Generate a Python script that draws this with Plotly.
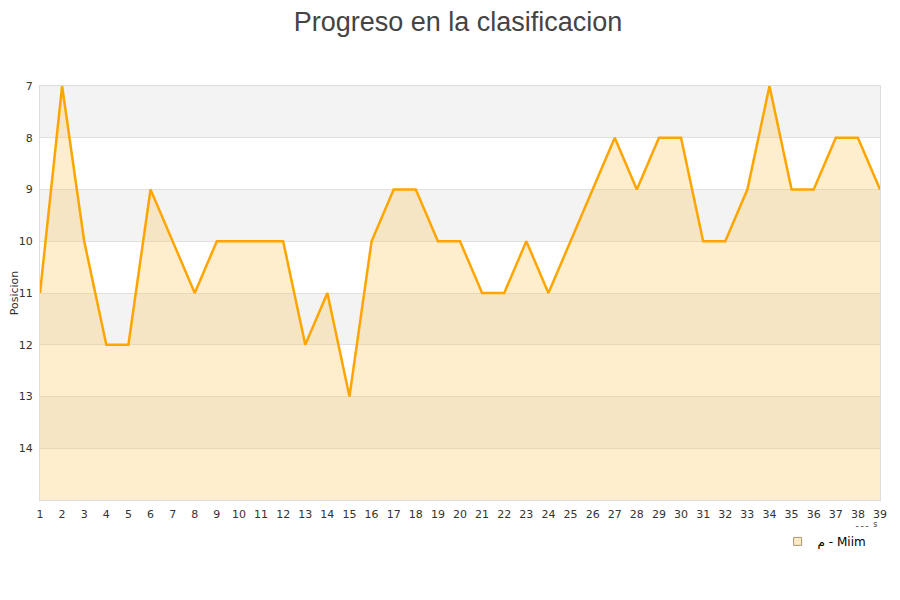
import plotly.graph_objects as go

jornadas = list(range(1, 40))
posiciones = [11, 7, 10, 12, 12, 9, 10, 11, 10, 10, 10, 10, 12, 11, 13, 10, 9, 9, 10, 10,
              11, 11, 10, 11, 10, 9, 8, 9, 8, 8, 10, 10, 9, 7, 9, 9, 8, 8, 9]
y_ticks = [7, 8, 9, 10, 11, 12, 13, 14]
serie_nombre = "م - Miim"

fig = go.Figure()

# alternating bands
for lo in [7, 9, 11, 13]:
    fig.add_shape(type="rect", xref="paper", yref="y", x0=0, x1=1, y0=lo, y1=lo + 1,
                  fillcolor="#f3f3f3", line_width=0, layer="below")

fig.add_trace(go.Scatter(x=jornadas, y=[15] * len(jornadas), mode="lines",
                         line=dict(width=0, color="rgba(0,0,0,0)"), showlegend=False,
                         hoverinfo="skip"))
fig.add_trace(go.Scatter(x=jornadas, y=posiciones, mode="lines", fill="tonexty",
                         fillcolor="rgba(255,200,90,0.30)",
                         line=dict(color="#FFA500", width=2.5), showlegend=False,
                         name=serie_nombre))
fig.add_trace(go.Scatter(x=[None], y=[None], mode="markers", name=serie_nombre,
                         marker=dict(symbol="square", size=8, color="#fde9c4",
                                     line=dict(color="#a89878", width=1))))

fig.add_annotation(text="ـ ـ ـ  s", xref="paper", yref="paper", x=0.999, y=-0.06,
                   xanchor="right", yanchor="middle", showarrow=False,
                   font=dict(size=8, color="#333"))

fig.update_layout(
    width=900, height=600,
    paper_bgcolor="white", plot_bgcolor="white",
    margin=dict(l=32, r=28, t=78, b=108, autoexpand=False),
    title=dict(text="Progreso en la clasificacion", x=0.5, xanchor="center", y=0.978,
               yanchor="middle", font=dict(family="Liberation Sans, Arial", size=27, color="#444")),
    font=dict(family="DejaVu Sans", size=11, color="#333"),
    xaxis=dict(range=[1, 39], tickmode="array", tickvals=jornadas, showgrid=False,
               zeroline=False, showline=True, linecolor="#dddddd", mirror=True,
               ticks="", automargin=False, ticklabelstandoff=4,
               tickfont=dict(size=11, color="#333")),
    yaxis=dict(range=[15, 7], tickmode="array", tickvals=y_ticks, showgrid=True,
               gridcolor="#e0e0e0", zeroline=False, showline=True, linecolor="#dddddd",
               mirror=True, ticks="", automargin=False, ticklabelstandoff=4,
               tickfont=dict(size=11, color="#333"),
               title=dict(text="Posicion", font=dict(size=11, color="#333"), standoff=8)),
    legend=dict(orientation="h", x=0.99, xanchor="right", y=-0.1, yanchor="middle",
                font=dict(family="DejaVu Sans", size=12, color="#000"),
                bgcolor="rgba(0,0,0,0)"),
)

fig.write_html("out.html")
